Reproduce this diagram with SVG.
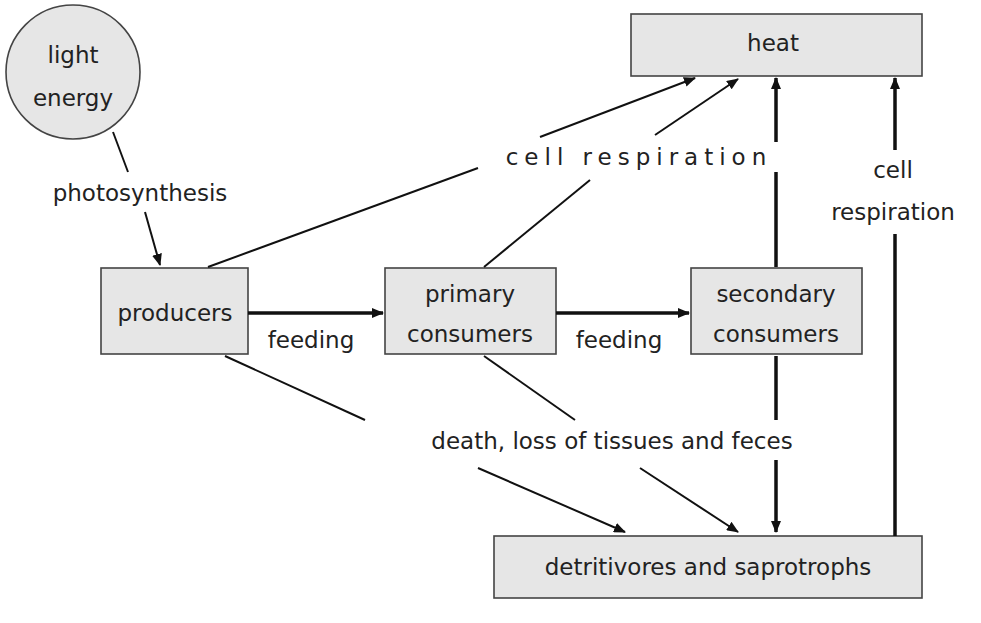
<svg xmlns="http://www.w3.org/2000/svg" width="981" height="623" viewBox="0 0 981 623">
<style>
.box{fill:#e6e6e6;stroke:#444;stroke-width:1.6}
text{font-family:"DejaVu Sans","Liberation Sans",sans-serif;font-size:23px;fill:#222;text-anchor:middle}
.l{stroke:#111;stroke-width:2;fill:none;marker-end:url(#a)}
.t{stroke:#111;stroke-width:3.5;fill:none}
.n{stroke:#111;stroke-width:2;fill:none}
</style>
<defs>
<marker id="a" markerWidth="12" markerHeight="10" refX="11" refY="5" orient="auto" markerUnits="userSpaceOnUse"><path d="M0,0 L12,5 L0,10 z" fill="#111"/></marker>
</defs>
<rect width="981" height="623" fill="#fff"/>
<g id="light"><circle cx="73" cy="72" r="67" class="box"/><text x="73" y="63">light</text><text x="73" y="106">energy</text></g>
<g id="heat"><rect x="631" y="14" width="291" height="62" class="box"/><text x="773" y="51">heat</text></g>
<g id="producers"><rect x="101" y="268" width="147" height="86" class="box"/><text x="175" y="321">producers</text></g>
<g id="primary"><rect x="385" y="268" width="171" height="86" class="box"/><text x="470" y="302">primary</text><text x="470" y="342">consumers</text></g>
<g id="secondary"><rect x="691" y="268" width="171" height="86" class="box"/><text x="776" y="302">secondary</text><text x="776" y="342">consumers</text></g>
<g id="detritivores"><rect x="494" y="536" width="428" height="62" class="box"/><text x="708" y="575">detritivores and saprotrophs</text></g>
<g id="connectors">
<line x1="113" y1="132" x2="128" y2="172" class="n"/><line x1="145" y1="212" x2="160" y2="265" class="l"/>
<line x1="248" y1="313" x2="383" y2="313" class="t" marker-end="url(#a)"/>
<line x1="556" y1="313" x2="689" y2="313" class="t" marker-end="url(#a)"/>
<line x1="208" y1="267" x2="478" y2="168" class="n"/><line x1="540" y1="137" x2="695" y2="78" class="l"/>
<line x1="484" y1="267" x2="590" y2="180" class="n"/><line x1="655" y1="135" x2="738" y2="79" class="l"/>
<line x1="776" y1="267" x2="776" y2="172" class="t"/><line x1="776" y1="142" x2="776" y2="78" class="t" marker-end="url(#a)"/>
<line x1="895" y1="536" x2="895" y2="234" class="t"/><line x1="895" y1="150" x2="895" y2="78" class="t" marker-end="url(#a)"/>
<line x1="225" y1="356" x2="365" y2="420" class="n"/><line x1="478" y1="468" x2="625" y2="532" class="l"/>
<line x1="484" y1="356" x2="575" y2="420" class="n"/><line x1="640" y1="468" x2="738" y2="532" class="l"/>
<line x1="776" y1="356" x2="776" y2="420" class="t"/><line x1="776" y1="460" x2="776" y2="532" class="t" marker-end="url(#a)"/>
</g>
<g id="labels">
<text x="140" y="201">photosynthesis</text>
<text x="311" y="348">feeding</text>
<text x="619" y="348">feeding</text>
<text x="639" y="165" letter-spacing="6">cell respiration</text>
<text x="893" y="178">cell</text>
<text x="893" y="220">respiration</text>
<text x="612" y="449">death, loss of tissues and feces</text>
</g>
</svg>
